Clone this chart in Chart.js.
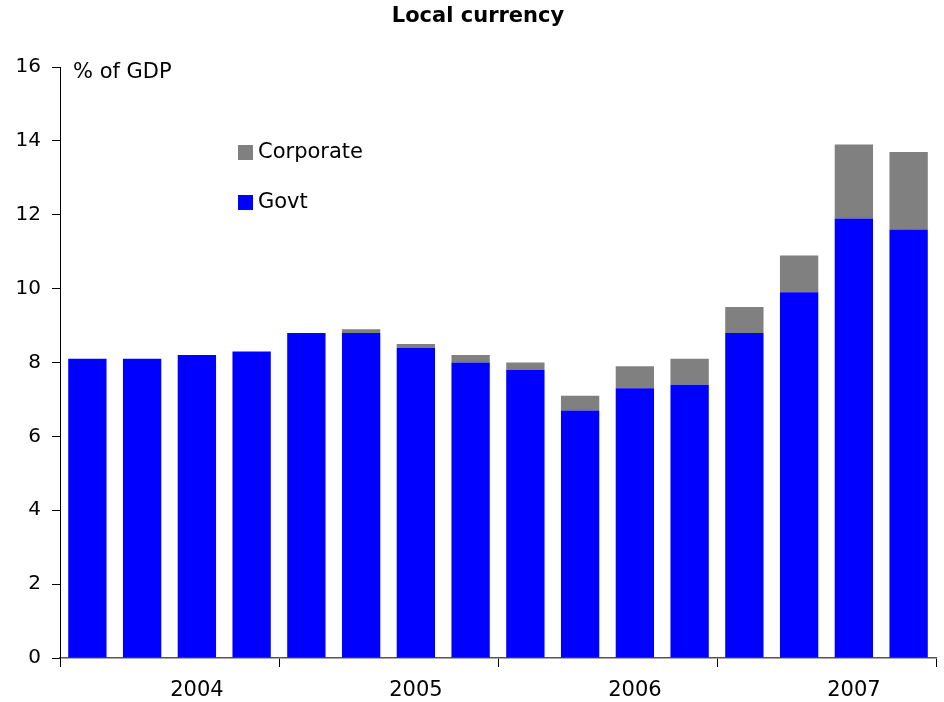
<!DOCTYPE html>
<html>
<head>
<meta charset="utf-8">
<title>Local currency</title>
<script src="https://cdn.jsdelivr.net/npm/chart.js@4/dist/chart.umd.min.js"></script>
<style>
  html, body { margin: 0; padding: 0; background: #fff; }
  #wrap { width: 944px; height: 702px; position: relative; }
</style>
</head>
<body>
<div id="wrap"><canvas id="bondChart" width="944" height="702"></canvas></div>
<script>
// quarterly issuance, % of GDP
const quarters = ['2004Q1', '2004Q2', '2004Q3', '2004Q4', '2005Q1', '2005Q2', '2005Q3', '2005Q4',
                  '2006Q1', '2006Q2', '2006Q3', '2006Q4', '2007Q1', '2007Q2', '2007Q3', '2007Q4'];
const govt = [8.1, 8.1, 8.2, 8.3, 8.8, 8.8, 8.4, 8.0, 7.8, 6.7, 7.3, 7.4, 8.8, 9.9, 11.9, 11.6];
const corporate = [0, 0, 0, 0, 0, 0.1, 0.1, 0.2, 0.2, 0.4, 0.6, 0.7, 0.7, 1.0, 2.0, 2.1];
const years = ['2004', '2005', '2006', '2007'];
const yTicks = [0, 2, 4, 6, 8, 10, 12, 14, 16];

const FONT = "'DejaVu Sans', Verdana, sans-serif";

// heading, unit label and the in-plot legend
const overlay = {
  id: 'overlay',
  afterDraw(chart) {
    const ctx = chart.ctx;
    const area = chart.chartArea;
    ctx.save();
    ctx.fillStyle = '#000';
    ctx.textBaseline = 'middle';
    ctx.textAlign = 'center';
    ctx.font = 'bold 21px ' + FONT;
    ctx.fillText('Local currency', 478, 17);

    ctx.textAlign = 'left';
    ctx.font = '21px ' + FONT;
    ctx.fillText('% of GDP', area.left + 13, area.top + 6);

    // Corporate listed first, as it sits on top of the stack
    const order = [1, 0];
    order.forEach((di, i) => {
      const ds = chart.data.datasets[di];
      const y = 152 + i * 50;
      ctx.fillStyle = ds.backgroundColor;
      ctx.fillRect(238, y - 7, 15, 15);
      ctx.fillStyle = '#000';
      ctx.fillText(ds.label, 258, y + 1);
    });
    ctx.restore();
  }
};

new Chart(document.getElementById('bondChart'), {
  type: 'bar',
  data: {
    labels: quarters,
    datasets: [
      { label: 'Govt', data: govt, backgroundColor: '#0000FF', stack: 's' },
      { label: 'Corporate', data: corporate, backgroundColor: '#808080', stack: 's' }
    ]
  },
  options: {
    responsive: false,
    animation: false,
    layout: { padding: { left: 0, right: 8, top: 67, bottom: 0 } },
    datasets: { bar: { categoryPercentage: 1, barPercentage: 0.7 } },
    plugins: {
      legend: { display: false },
      tooltip: { enabled: false },
      title: { display: false }
    },
    scales: {
      x: {
        stacked: true,
        afterFit(scale) { scale.height = 44; },
        ticks: {
          autoSkip: false,
          maxRotation: 0,
          padding: 11,
          color: '#000',
          font: { family: FONT, size: 21 },
          // one year label per group, under its third quarter
          callback(v, i) { return i % 4 === 2 ? years[Math.floor(i / 4)] : ''; }
        },
        grid: {
          offset: true,
          drawOnChartArea: false,
          tickLength: 9,
          // the closing line at the right end has no tick index of its own
          color: ctx => (ctx.index === undefined || ctx.index % 4 === 0 ? '#000' : 'rgba(0,0,0,0)')
        },
        border: { color: '#555', width: 1.5 }
      },
      y: {
        stacked: true,
        min: 0,
        max: 16,
        afterBuildTicks(scale) { scale.ticks = yTicks.map(v => ({ value: v })); },
        afterFit(scale) { scale.width = 60; },
        ticks: {
          padding: 11,
          color: '#000',
          font: { family: FONT, size: 20 }
        },
        grid: { drawOnChartArea: false, tickLength: 8, color: '#000' },
        border: { color: '#000', width: 1 }
      }
    }
  },
  plugins: [overlay]
});
</script>
</body>
</html>
